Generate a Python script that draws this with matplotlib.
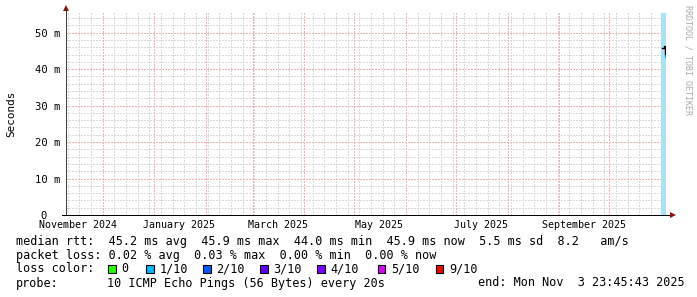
import matplotlib
matplotlib.use('Agg')
import matplotlib.pyplot as plt
import matplotlib.dates as mdates
from matplotlib.patches import Rectangle
from datetime import datetime, timedelta

# ---------------- data ----------------
end_time = datetime(2025, 11, 3, 23, 45, 43)
span_days = 360
start_time = end_time - timedelta(days=span_days)

band_start = datetime(2025, 11, 1, 4, 0)     # light-blue smoke band
band_end = end_time

median_times = [datetime(2025, 11, 1, 18, 0), datetime(2025, 11, 2, 10, 0),
                datetime(2025, 11, 2, 22, 0), datetime(2025, 11, 3, 8, 0),
                datetime(2025, 11, 3, 23, 45)]
median_ms = [45.8, 45.9, 46.4, 44.0, 45.9]
loss_seg_times = [datetime(2025, 11, 3, 8, 0), datetime(2025, 11, 3, 8, 0)]
loss_seg_ms = [44.0, 43.2]

y_max = 55.4
y_ticks = [0, 10, 20, 30, 40, 50]
y_tick_labels = ['0  ', '10 m', '20 m', '30 m', '40 m', '50 m']
x_label_dates = [datetime(2024, 11, 16), datetime(2025, 1, 16), datetime(2025, 3, 16),
                 datetime(2025, 5, 16), datetime(2025, 7, 16), datetime(2025, 9, 16)]
x_tick_labels = ['November 2024', 'January 2025', 'March 2025', 'May 2025',
                 'July 2025', 'September 2025']

line_rtt = "median rtt:  45.2 ms avg  45.9 ms max  44.0 ms min  45.9 ms now  5.5 ms sd  8.2   am/s"
line_loss = "packet loss: 0.02 % avg  0.03 % max  0.00 % min  0.00 % now"
loss_title = "loss color:"
loss_labels = ['0', '1/10', '2/10', '3/10', '4/10', '5/10', '9/10']
loss_colors = ['#26ff00', '#00b8ff', '#0059ff', '#5e00ff', '#7e00ff', '#dd00ff', '#ff0000']
probe_title = "probe:"
probe_text = "10 ICMP Echo Pings (56 Bytes) every 20s"
end_text = "end: Mon Nov  3 23:45:43 2025"
watermark = "RRDTOOL / TOBI OETIKER"
y_title = "Seconds"

# ---------------- layout ----------------
W, H = 697, 297
MONO = 'DejaVu Sans Mono'
fig = plt.figure(figsize=(W / 100, H / 100), dpi=100)
fig.patch.set_facecolor('white')
ax = fig.add_axes([66 / W, (H - 215) / H, 600 / W, 202 / H])
ax.set_facecolor('white')

x0, x1 = mdates.date2num(start_time), mdates.date2num(end_time)
ax.set_xlim(x0, x1)
ax.set_ylim(0, y_max)

minor_col = '#dadada'
major_col = '#f3b2b2'
px = 0.72  # 1 pixel in points
grid_kw = dict(lw=px, ls=(0, (2, 2)), antialiased=False)

# grid
weeks = mdates.WeekdayLocator(byweekday=mdates.SU).tick_values(start_time, end_time)
months = mdates.MonthLocator().tick_values(start_time, end_time)
for w in weeks:
    if x0 < w < x1:
        ax.axvline(w, color=minor_col, zorder=1, **grid_kw)
for yv in range(2, int(y_max) + 1, 2):
    if yv % 10:
        ax.axhline(yv, color=minor_col, zorder=1, **grid_kw)
for m in months:
    if x0 < m < x1:
        ax.axvline(m, color=major_col, zorder=2, **grid_kw)
for yv in y_ticks[1:]:
    ax.axhline(yv, color=major_col, zorder=2, **grid_kw)

# data
ax.axvspan(mdates.date2num(band_start), mdates.date2num(band_end),
           color='#a9e2f6', lw=0, zorder=3)
ax.plot(median_times, median_ms, color='black', lw=1.0, drawstyle='steps-post', zorder=4)
ax.plot(loss_seg_times, loss_seg_ms, color=loss_colors[1], lw=1.0, zorder=5)

# axes lines and arrows
for s in ax.spines.values():
    s.set_visible(False)
ax.plot([0, 0], [0, 1 + 3 / 202], transform=ax.transAxes, color='#404040', lw=px,
        clip_on=False, zorder=6, antialiased=False)
ax.plot([-4 / 600, 1 + 4 / 600], [0, 0], transform=ax.transAxes, color='black', lw=px,
        clip_on=False, zorder=6, antialiased=False)
ax.plot([0], [1 + 5 / 202], transform=ax.transAxes, marker='^', ms=4.5, color='#8b1010',
        clip_on=False, zorder=7, mew=0)
ax.plot([1 + 7 / 600], [0], transform=ax.transAxes, marker='>', ms=4.5, color='#8b1010',
        clip_on=False, zorder=7, mew=0)

# ticks
ax.set_yticks(y_ticks)
ax.set_yticklabels(y_tick_labels, family=MONO, fontsize=7.6)
ax.set_xticks(mdates.date2num(x_label_dates))
ax.set_xticklabels(x_tick_labels, family=MONO, fontsize=7.2)
ax.tick_params(axis='both', length=0)
ax.tick_params(axis='x', pad=3.4)
ax.tick_params(axis='y', pad=4.3)

# y title and watermark
fig.text(11 / W, 1 - 114 / H, y_title, rotation=90, family=MONO, fontsize=7.9,
         ha='center', va='center')
fig.text(688 / W, 1 - 60 / H, watermark, rotation=270, family=MONO, fontsize=6,
         color='#a8a8a8', ha='center', va='center')

# legend text
fs = 8.45
def ftext(xp, yp, s, **kw):
    fig.text(xp / W, 1 - yp / H, s, family=MONO, fontsize=fs, ha='left', va='center', **kw)

ftext(16, 241, line_rtt)
ftext(16, 255, line_loss)
ftext(16, 269, loss_title)
box_x = [108, 146, 203, 260, 317, 377.5, 436]
for bx, lab, col in zip(box_x, loss_labels, loss_colors):
    fig.add_artist(Rectangle((bx / W, 1 - 272.5 / H), 7.5 / W, 7.5 / H,
                             transform=fig.transFigure, facecolor=col,
                             edgecolor='black', lw=0.8))
    ftext(bx + 13.5, 269, lab)
ftext(16, 283, probe_title)
ftext(107, 283, probe_text)
ftext(478, 283, end_text)

fig.savefig('out.png', dpi=100, facecolor='white')
